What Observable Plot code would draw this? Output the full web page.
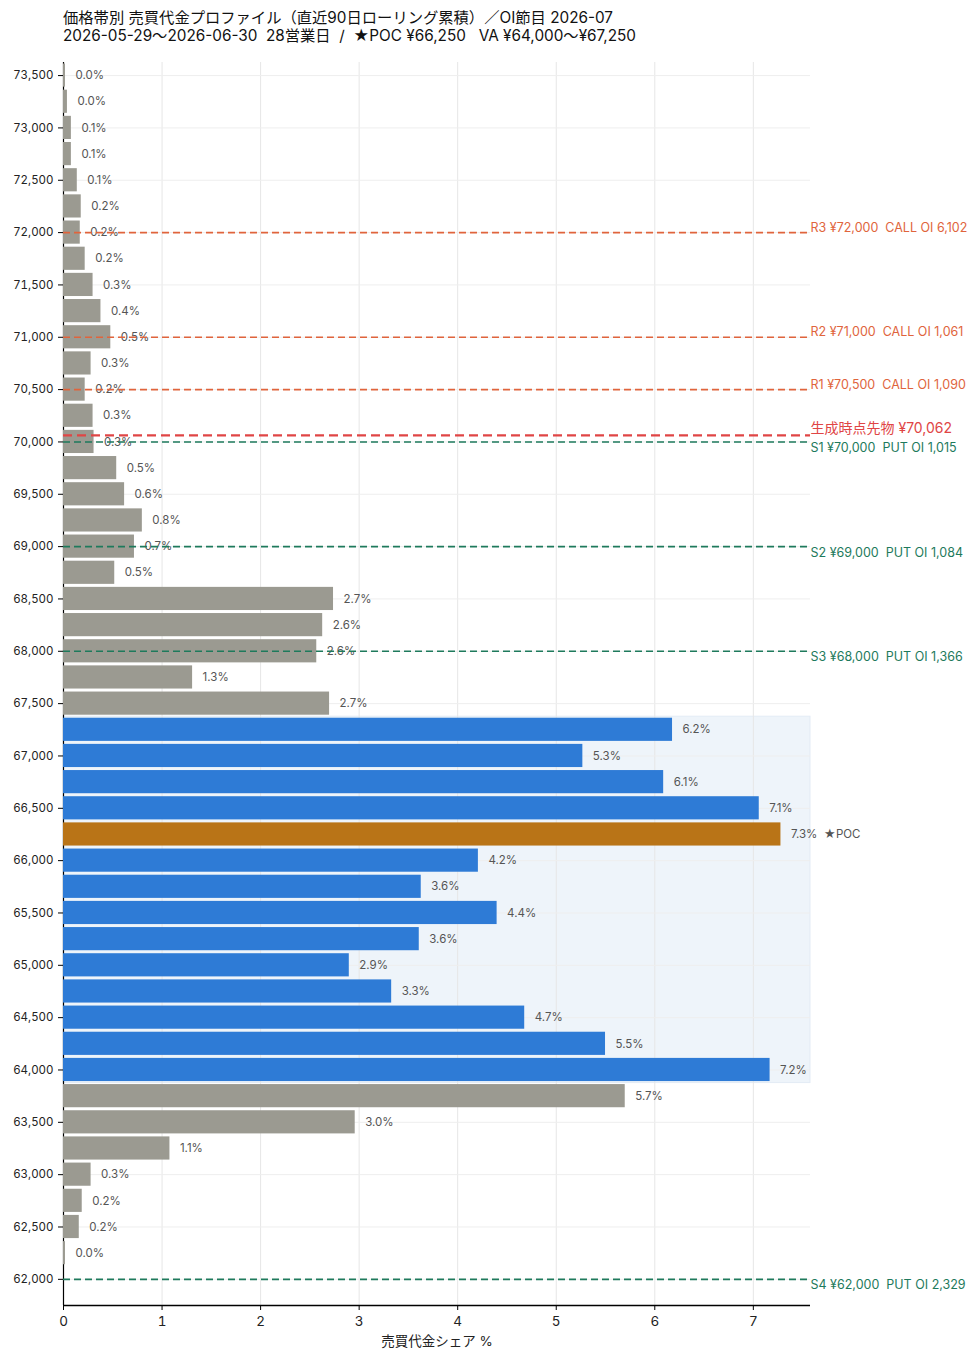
<!DOCTYPE html>
<html>
<head>
<meta charset="utf-8">
<script src="https://cdn.jsdelivr.net/npm/d3@7"></script>
<script src="https://cdn.jsdelivr.net/npm/@observablehq/plot@0.6"></script>
<style>
  body { margin: 0; background: #fff; font-family: Inter, "Noto Sans CJK JP", sans-serif; }
  #title { padding: 9px 0 0 63px; font-size: 15.3px; line-height: 18px; color: #111; height: 35px; white-space: pre; }
  svg { display: block; }
  svg text { white-space: pre; }
</style>
</head>
<body>
<div id="title"><div>価格帯別 売買代金プロファイル（直近90日ローリング累積）／OI節目 2026-07</div><div>2026-05-29〜2026-06-30  28営業日  /  ★POC ¥66,250   VA ¥64,000〜¥67,250</div></div>
<div id="chart"></div>
<script>
// Price bands (yen, 250 step) and their share of traded value (%)
const prices = [
  73500, 73250, 73000, 72750, 72500, 72250, 72000, 71750, 71500, 71250,
  71000, 70750, 70500, 70250, 70000, 69750, 69500, 69250, 69000, 68750,
  68500, 68250, 68000, 67750, 67500, 67250, 67000, 66750, 66500, 66250,
  66000, 65750, 65500, 65250, 65000, 64750, 64500, 64250, 64000, 63750,
  63500, 63250, 63000, 62750, 62500, 62250
];
const shares = [
  0.02, 0.04, 0.08, 0.08, 0.14, 0.18, 0.17, 0.22, 0.30, 0.38,
  0.48, 0.28, 0.22, 0.30, 0.31, 0.54, 0.62, 0.80, 0.72, 0.52,
  2.74, 2.63, 2.57, 1.31, 2.70, 6.18, 5.27, 6.09, 7.06, 7.28,
  4.21, 3.63, 4.40, 3.61, 2.90, 3.33, 4.68, 5.50, 7.17, 5.70,
  2.96, 1.08, 0.28, 0.19, 0.16, 0.02
];
const bandStep = 250;
const poc = 66250;
const vaLow = 64000;
const vaHigh = 67250;

// Option open-interest levels
const levelNames = ["R3", "R2", "R1", "S1", "S2", "S3", "S4"];
const levelPrices = [72000, 71000, 70500, 70000, 69000, 68000, 62000];
const levelSides = ["CALL", "CALL", "CALL", "PUT", "PUT", "PUT", "PUT"];
const levelOI = [6102, 1061, 1090, 1015, 1084, 1366, 2329];

// Futures price at generation time
const futuresPrice = 70062;
const futuresLabel = "生成時点先物";

const yTicks = d3.range(62000, 73501, 500);
const xTicks = [0, 1, 2, 3, 4, 5, 6, 7];
const xMax = 7.58;
const yMin = 61750;
const yMax = 73625;

const fmtYen = d3.format(",");

const bands = prices.map((p, i) => ({
  price: p,
  share: shares[i],
  kind: p === poc ? "poc" : (p >= vaLow && p <= vaHigh ? "va" : "out")
}));

const levels = levelNames.map((n, i) => ({
  name: n,
  price: levelPrices[i],
  side: levelSides[i],
  oi: levelOI[i],
  color: levelSides[i] === "CALL" ? "#e0643c" : "#1e7a5c"
}));
const calls = levels.filter(d => d.side === "CALL");
const puts = levels.filter(d => d.side === "PUT");
const levelText = d => `${d.name} ¥${fmtYen(d.price)}  ${d.side} OI ${fmtYen(d.oi)}`;

const fillOf = {poc: "#b97417", va: "#2e7bd6", out: "#9b9a91"};

const chart = Plot.plot({
  width: 978,
  height: 1317,
  marginLeft: 63,
  marginRight: 168,
  marginTop: 18,
  marginBottom: 56,
  style: {fontFamily: "Inter, Noto Sans CJK JP, sans-serif", color: "#222", background: "#fff"},
  x: {domain: [0, xMax]},
  y: {domain: [yMin, yMax]},
  marks: [
    // value area backdrop
    Plot.rect([{lo: vaLow, hi: vaHigh}], {
      x1: 0, x2: xMax,
      y1: d => d.lo - bandStep / 2, y2: d => d.hi + bandStep / 2,
      fill: "#eef4fa", stroke: "#e3ebf5", strokeWidth: 1
    }),
    Plot.gridX(xTicks, {stroke: "#e6e6e6", strokeOpacity: 1}),
    Plot.gridY(yTicks, {stroke: "#eeeeee", strokeOpacity: 1}),
    Plot.ruleX([0], {stroke: "#000", strokeWidth: 1.2}),
    // volume-profile bars
    Plot.rectX(bands, {
      x1: 0, x2: "share",
      y1: d => d.price - bandStep / 2, y2: d => d.price + bandStep / 2,
      insetTop: 1.5, insetBottom: 1.5,
      fill: d => fillOf[d.kind]
    }),
    Plot.text(bands, {
      x: "share", y: "price",
      text: d => d.share.toFixed(1) + "%" + (d.kind === "poc" ? "  ★POC" : ""),
      textAnchor: "start", dx: 10, fontSize: 11.5, fill: "#555"
    }),
    // OI levels
    Plot.ruleY(levels, {
      y: "price", x1: 0, x2: xMax,
      stroke: "color", strokeWidth: 1.6, strokeDasharray: "7,4"
    }),
    Plot.text(calls, {
      x: xMax, y: "price", text: levelText,
      textAnchor: "start", dy: -5, fontSize: 12.5, fill: "color"
    }),
    Plot.text(puts, {
      x: xMax, y: "price", text: levelText,
      textAnchor: "start", dy: 6, fontSize: 12.5, fill: "color"
    }),
    // futures reference
    Plot.ruleY([futuresPrice], {
      x1: 0, x2: xMax, stroke: "#e04545", strokeWidth: 2.2, strokeDasharray: "9,5"
    }),
    Plot.text([futuresPrice], {
      x: xMax, y: d => d,
      text: d => `${futuresLabel} ¥${fmtYen(d)}`,
      textAnchor: "start", dy: -7, fontSize: 14, fill: "#e04545"
    }),
    Plot.ruleY([yMin], {stroke: "#000", strokeWidth: 1.5}),
    Plot.axisY(yTicks, {
      tickFormat: fmtYen, tickSize: 5, tickPadding: 5, fontSize: 11.5, label: null, stroke: "#000"
    }),
    Plot.axisX(xTicks, {
      tickSize: 5, fontSize: 13.5, tickPadding: 6, stroke: "#000",
      label: "売買代金シェア %", labelAnchor: "center", labelArrow: "none", labelOffset: 40
    })
  ]
});
chart.querySelectorAll("g[aria-label='x-axis label'] text").forEach(t => t.setAttribute("font-size", "13.5"));
document.getElementById("chart").appendChild(chart);
</script>
</body>
</html>
